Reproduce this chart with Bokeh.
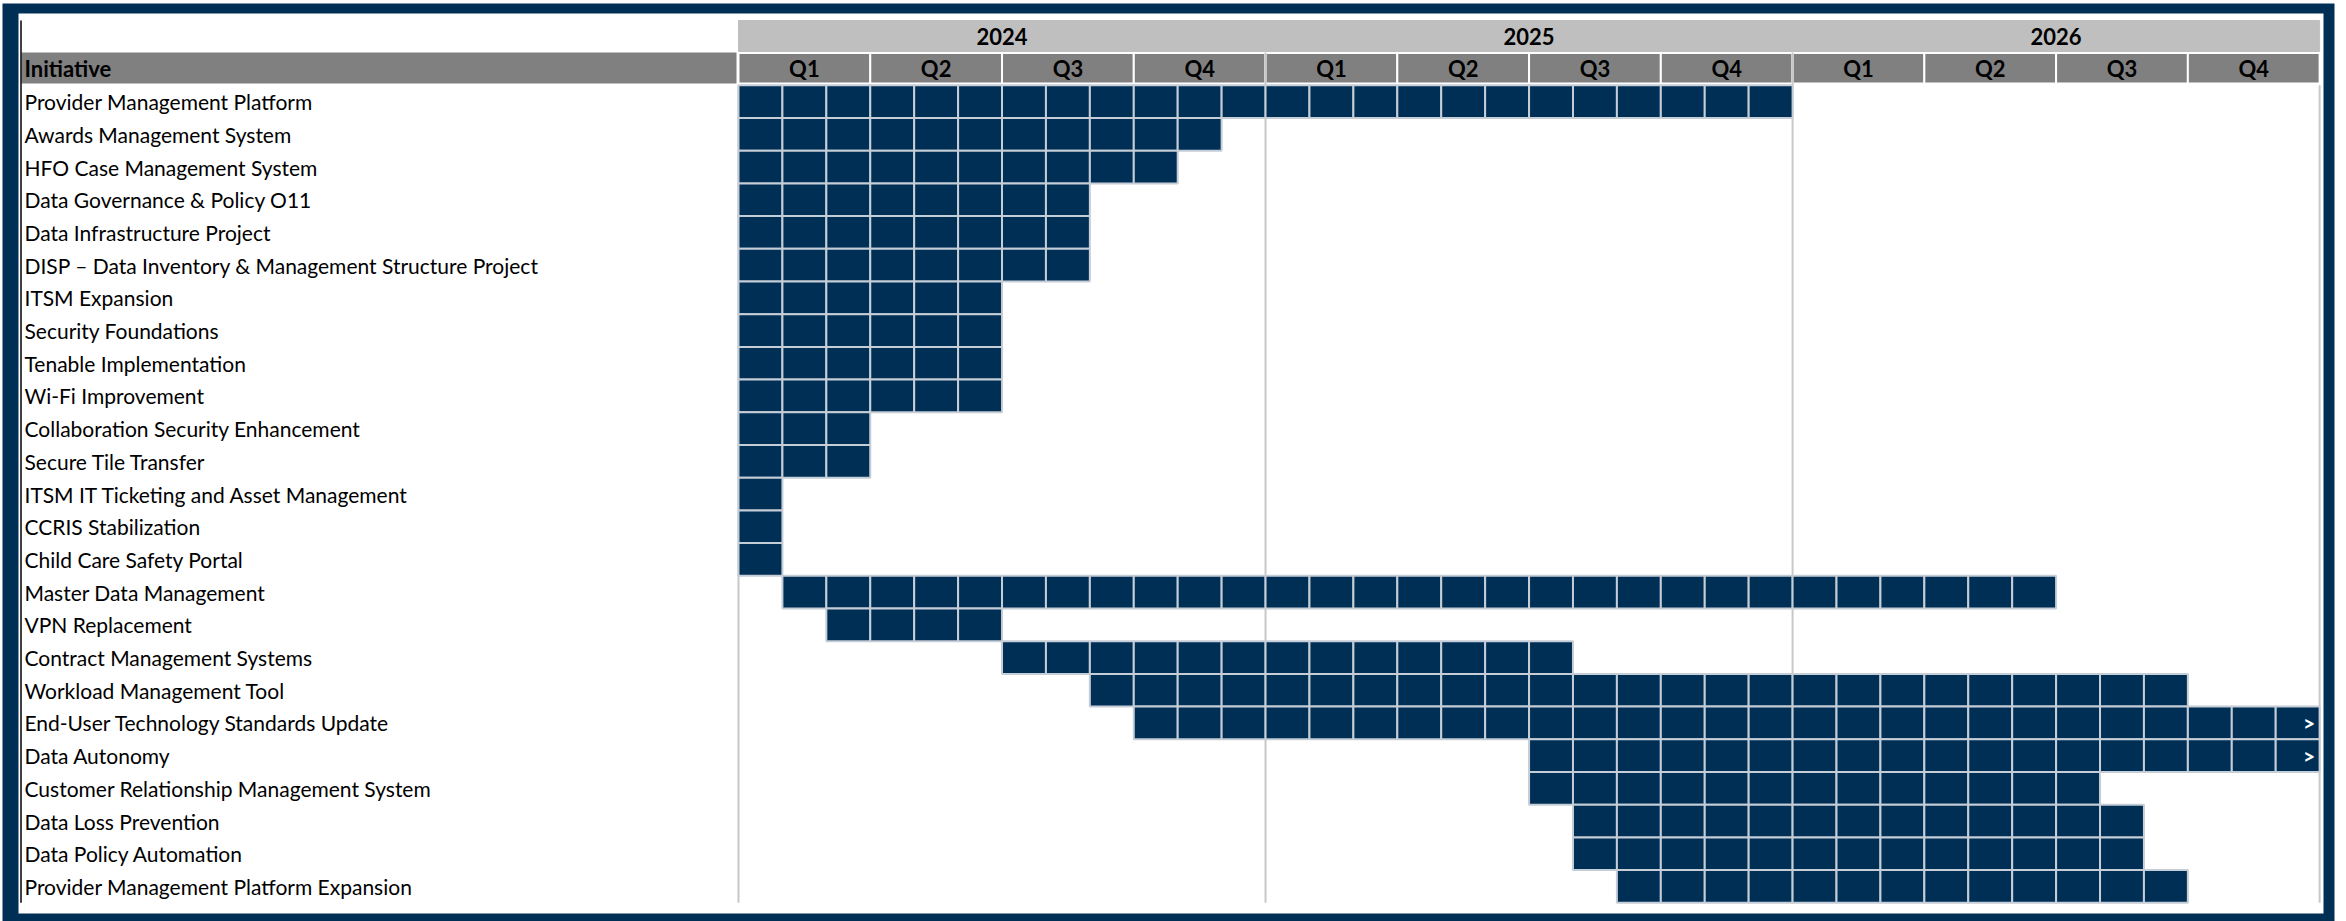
from bokeh.plotting import figure
from bokeh.models import ColumnDataSource, Range1d
from bokeh.core.properties import value
from bokeh.embed import file_html
from bokeh.resources import INLINE

# ---------------------------------------------------------------- data
initiatives = [
    "Provider Management Platform",
    "Awards Management System",
    "HFO Case Management System",
    "Data Governance & Policy O11",
    "Data Infrastructure Project",
    "DISP – Data Inventory & Management Structure Project",
    "ITSM Expansion",
    "Security Foundations",
    "Tenable Implementation",
    "Wi-Fi Improvement",
    "Collaboration Security Enhancement",
    "Secure Tile Transfer",
    "ITSM IT Ticketing and Asset Management",
    "CCRIS Stabilization",
    "Child Care Safety Portal",
    "Master Data Management",
    "VPN Replacement",
    "Contract Management Systems",
    "Workload Management Tool",
    "End-User Technology Standards Update",
    "Data Autonomy",
    "Customer Relationship Management System",
    "Data Loss Prevention",
    "Data Policy Automation",
    "Provider Management Platform Expansion",
]
# month index 0 = January 2024; end_month is the month after the last active one
start_month = [0, 0, 0, 0, 0, 0, 0, 0, 0, 0, 0, 0, 0, 0, 0,
               1, 2, 6, 8, 9, 18, 18, 19, 19, 20]
end_month = [24, 11, 10, 8, 8, 8, 6, 6, 6, 6, 3, 3, 1, 1, 1,
             30, 6, 19, 33, 36, 36, 31, 32, 32, 33]
# initiatives that carry on past the end of the timeline
continues = [False] * 19 + [True, True] + [False] * 4

years = ["2024", "2025", "2026"]
quarters = ["Q1", "Q2", "Q3", "Q4"]

# ---------------------------------------------------------------- layout
W, H = 2346, 921
X0, MW = 738.0, 43.92      # pixel of month 0, pixels per month
Y0, RH = 84.8, 32.7        # pixel of first row top, pixels per row

NAVY = "#002F56"
FONT = "Lato"


def gx(px):
    return (px - X0) / MW


def gy(py):
    return (py - Y0) / RH


n_rows = len(initiatives)
n_months = 12 * len(years)

p = figure(
    width=W, height=H,
    x_range=Range1d(gx(0), gx(W)),
    y_range=Range1d(gy(H), gy(0)),
    output_backend="svg", toolbar_location=None,
    x_axis_location=None, y_axis_location=None,
    min_border=0, outline_line_color=None,
    background_fill_color="white", border_fill_color="white",
)
p.xgrid.visible = False
p.ygrid.visible = False

# outer navy frame
p.quad(left=[gx(2)], right=[gx(2334)], top=[gy(3)], bottom=[gy(921)],
       fill_color=NAVY, line_color=None)
p.quad(left=[gx(18)], right=[gx(2323)], top=[gy(13)], bottom=[gy(913)],
       fill_color="white", line_color=None)

# year band
yr_src = ColumnDataSource(dict(
    left=[12 * i for i in range(len(years))],
    right=[12 * i + 12 for i in range(len(years))],
    mid=[12 * i + 6 for i in range(len(years))],
    label=years,
))
p.quad(left="left", right="right", top=gy(20), bottom=gy(51), source=yr_src,
       fill_color="#BFBFBF", line_color="#BFBFBF", line_width=1)
p.text(x="mid", y=gy(36), text="label", source=yr_src,
       text_font=value(FONT), text_font_style="bold",
       text_font_size=value("22px"), text_color="black",
       text_align="center", text_baseline="middle")

# quarter band and "Initiative" header cell
q_left = [3 * i for i in range(n_months // 3)]
q_src = ColumnDataSource(dict(
    left=q_left,
    right=[x + 3 for x in q_left],
    mid=[x + 1.5 for x in q_left],
    label=[quarters[i % 4] for i in range(n_months // 3)],
))
p.quad(left=[gx(21)], right=[gx(736)], top=[gy(52)], bottom=[gy(83)],
       fill_color="#808080", line_color=None)
p.quad(left="left", right="right", top=gy(52.5), bottom=gy(83), source=q_src,
       fill_color="#808080", line_color="white", line_width=2)
p.text(x="mid", y=gy(68), text="label", source=q_src,
       text_font=value(FONT), text_font_style="bold",
       text_font_size=value("22px"), text_color="black",
       text_align="center", text_baseline="middle")
p.text(x=[gx(24)], y=[gy(68)], text=["Initiative"],
       text_font=value(FONT), text_font_style="bold",
       text_font_size=value("22px"), text_color="black",
       text_align="left", text_baseline="middle")

# vertical separators: timeline start/end and year boundaries
p.segment(x0=[0, n_months], y0=[0, 0], x1=[0, n_months], y1=[n_rows, n_rows],
          line_color="#C8C8C8", line_width=2)
p.segment(x0=[12, 24], y0=[gy(52), gy(52)], x1=[12, 24], y1=[n_rows, n_rows],
          line_color="#C8C8C8", line_width=2)
# left edge of the table
p.segment(x0=[gx(20.5)], y0=[gy(20)], x1=[gx(20.5)], y1=[n_rows],
          line_color="black", line_width=1.5)

# monthly cells for every initiative
cl, cr, ct, cb = [], [], [], []
for r, (s, e) in enumerate(zip(start_month, end_month)):
    for m in range(s, e):
        cl.append(m)
        cr.append(m + 1)
        ct.append(r)
        cb.append(r + 1)
p.quad(left=cl, right=cr, top=ct, bottom=cb,
       fill_color=NAVY, line_color="#C5CDD6", line_width=2)

# initiative names
p.text(x=gx(24), y=[r + 0.5 for r in range(n_rows)], text=initiatives,
       text_font=value(FONT), text_font_size=value("21px"),
       text_color="black", text_align="left", text_baseline="middle")

# continuation markers
cont_rows = [r for r in range(n_rows) if continues[r]]
p.text(x=[end_month[r] - 0.1 for r in cont_rows],
       y=[r + 0.5 for r in cont_rows], text=[">"] * len(cont_rows),
       text_font=value(FONT), text_font_style="bold",
       text_font_size=value("21px"), text_color="white",
       text_align="right", text_baseline="middle")

open("out.html", "w").write(file_html(p, INLINE))
